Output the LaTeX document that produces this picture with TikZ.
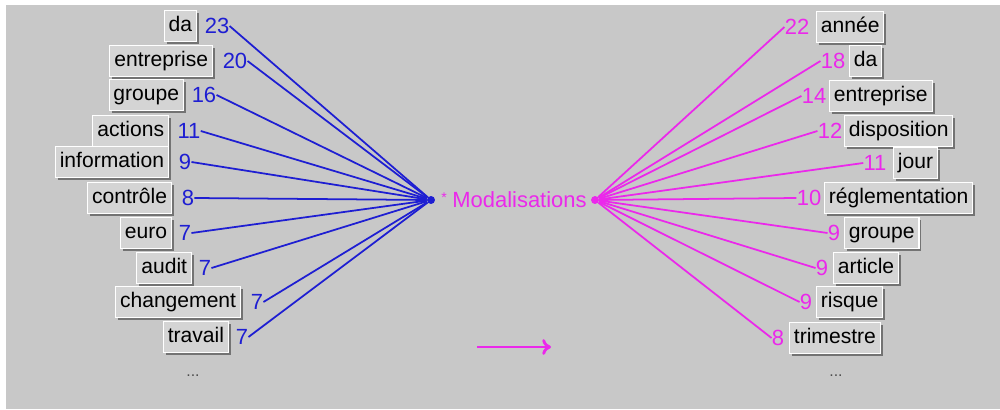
\documentclass[tikz,border=0pt]{standalone}
\usepackage{fontspec}
\setmainfont{Liberation Sans}
\usetikzlibrary{shadows,arrows.meta}
\definecolor{bggray}{RGB}{200,200,200}
\definecolor{boxgray}{RGB}{212,212,212}
\definecolor{lblue}{RGB}{30,30,210}
\definecolor{rmag}{RGB}{235,40,235}
\tikzset{>={To[length=5pt,width=9pt]}}
\tikzset{
  wordbox/.style = {fill=boxgray, draw=white, line width=0.6pt, inner xsep=2.5pt,
    inner ysep=2.6pt, text height=9pt, text depth=3pt, font=\fontsize{12}{14}\selectfont,
    drop shadow={shadow xshift=1.4pt, shadow yshift=-1.4pt, fill=black!55, opacity=1}},
  freq/.style = {inner sep=0pt, font=\fontsize{12.5}{14}\selectfont},
  link/.style = {line width=1pt}
}

\begin{document}
\begin{tikzpicture}[x=0.02cm,y=-0.02cm]
  \useasboundingbox (0,0) rectangle (1000,409);
  \fill[bggray] (6,5) rectangle (1000,409);
  % left: co-occurrents before the pole
  \node[circle,fill=lblue,inner sep=1.6pt] (lhub) at (431,200) {};
  \foreach \w/\n/\bx/\nx/\y [count=\i] in {da/23/197/217/26, entreprise/20/213/235/61,
      groupe/16/184/204/95, actions/11/169/189/131, information/9/169/185/162,
      contr\^ole/8/172/188/198, euro/7/172/185/233, audit/7/192/205/268,
      changement/7/241/257/302, travail/7/229/242/337} {
    \node[wordbox,anchor=east] (lw\i) at (\bx,\y) {\w};
    \node[freq,text=lblue] (ln\i) at (\nx,\y) {\n};
    \draw[link,lblue] (ln\i.east) -- (lhub);
  }
  \node[text=black!70,font=\small] (ldots) at (193,376) {...};
  % pole
  \node[text=rmag,inner sep=0pt,font=\footnotesize] (star) at (444,198) {*};
  \node[text=rmag,anchor=west,inner sep=0pt,font=\fontsize{12.5}{14}\selectfont] (pole) at (452,200) {Modalisations};
  % right: co-occurrents after the pole
  \node[circle,fill=rmag,inner sep=1.6pt] (rhub) at (595,200) {};
  \foreach \w/\n/\bx/\nx/\y [count=\i] in {ann\'ee/22/816/797/27, da/18/849/833/61,
      entreprise/14/829/814/96, disposition/12/844/830/131, jour/11/893/875/163,
      r\'eglementation/10/824/809/198, groupe/9/844/834/233, article/9/833/822/268,
      risque/9/816/806/302, trimestre/8/789/778/338} {
    \node[wordbox,anchor=west] (rw\i) at (\bx,\y) {\w};
    \node[freq,text=rmag] (rn\i) at (\nx,\y) {\n};
    \draw[link,rmag] (rhub) -- (rn\i.west);
  }
  \node[text=black!70,font=\small] (rdots) at (836,376) {...};
  % direction
  \coordinate (a0) at (477,347);
  \coordinate (a1) at (551,347);
  \draw[->,rmag,line width=1.6pt] (a0) -- (a1);
\end{tikzpicture}
\end{document}
